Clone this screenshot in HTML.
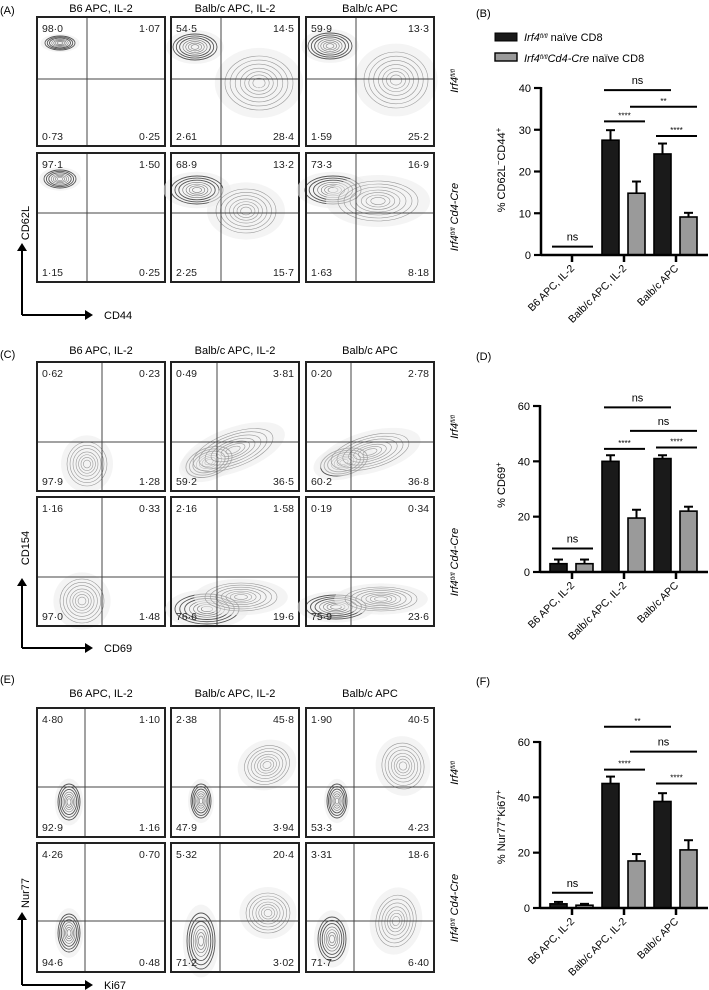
<!DOCTYPE html>
<html><head><meta charset="utf-8"><style>
body{margin:0;background:#fff}
svg{display:block;font-family:"Liberation Sans",sans-serif}
</style></head><body>
<svg id="fig" width="709" height="990" viewBox="0 0 709 990" xmlns="http://www.w3.org/2000/svg"></svg>
<script>
const NS="http://www.w3.org/2000/svg";
const svg=document.getElementById('fig');
function el(tag,attrs,parent,text){const e=document.createElementNS(NS,tag);for(const k in attrs)e.setAttribute(k,attrs[k]);if(text!==undefined)e.textContent=text;(parent||svg).appendChild(e);return e;}

// ---------- bar chart data ----------
const categories=["B6 APC, IL-2","Balb/c APC, IL-2","Balb/c APC"];
const seriesNames=["Irf4 fl/fl naïve CD8","Irf4 fl/fl Cd4-Cre naïve CD8"];
const bValuesWT=[0,27.5,24.2];
const bValuesKO=[0,14.8,9.1];
const bErrWT=[0,2.4,2.5];
const bErrKO=[0,2.8,1.0];
const bTicks=[0,10,20,30,40];
const dValuesWT=[3,40,41];
const dValuesKO=[3,19.5,22];
const dErrWT=[1.5,2.2,1.2];
const dErrKO=[1.5,3,1.6];
const dTicks=[0,20,40,60];
const fValuesWT=[1.5,45,38.5];
const fValuesKO=[1,17,21];
const fErrWT=[0.7,2.5,3];
const fErrKO=[0.5,2.5,3.5];
const fTicks=[0,20,40,60];
// significance annotations: [fromGroup, fromSeries, toGroup, toSeries, value, label]
const bSig=[[0,0,0,1,2,"ns"],[1,0,2,0,39.5,"ns"],[1,1,2,1,35.5,"**"],[1,0,1,1,32,"****"],[2,0,2,1,28.5,"****"]];
const dSig=[[0,0,0,1,8.5,"ns"],[1,0,2,0,59.5,"ns"],[1,1,2,1,51,"ns"],[1,0,1,1,44.5,"****"],[2,0,2,1,45,"****"]];
const fSig=[[0,0,0,1,5.5,"ns"],[1,0,2,0,65.5,"**"],[1,1,2,1,56.5,"ns"],[1,0,1,1,50,"****"],[2,0,2,1,45,"****"]];

function barChart(o){
  const g=el('g',{});
  
  
  const yMax=o.ticks[o.ticks.length-1];
  const y=v=>o.y0-(v/yMax)*(o.y0-o.yTop);
  const cx=i=>o.c0+i*52;
  const bx=(i,s)=>s===0?cx(i)-22:cx(i)+4;
  [[o.wt,o.ewt,'#1a1a1a'],[o.ko,o.eko,'#9a9a9a']].forEach((ser,s)=>{
    ser[0].forEach((v,i)=>{
      const x=bx(i,s),top=y(v),etop=y(v+ser[1][i]);
      if(ser[1][i]>0){
        const ln=el('line',{x1:x+8.5,x2:x+8.5,y1:top,y2:etop,stroke:'#000','stroke-width':2},g);
        
        el('line',{x1:x+4,x2:x+13,y1:etop,y2:etop,stroke:'#000','stroke-width':2},g);
      }
      if(v>0){
        const r=el('rect',{x:x,y:top,width:17,height:o.y0-top,fill:ser[2],stroke:'#000','stroke-width':1.6},g);
        
        
      }
    });
  });
  const ya=el('line',{x1:o.ax,x2:o.ax,y1:o.yTop-1,y2:o.y0+1,stroke:'#000','stroke-width':2.5},g);
  
  const xa=el('line',{x1:o.ax,x2:708,y1:o.y0,y2:o.y0,stroke:'#000','stroke-width':2.5},g);
  
  o.ticks.forEach(t=>{
    el('line',{x1:o.ax-7,x2:o.ax,y1:y(t),y2:y(t),stroke:'#000','stroke-width':2.2},g);
    const tl=el('text',{x:o.ax-10,y:y(t)+4,'text-anchor':'end','font-size':11},g,String(t));
    
  });
  categories.forEach((c,i)=>{
    el('line',{x1:cx(i),x2:cx(i),y1:o.y0,y2:o.y0+7,stroke:'#000','stroke-width':2.5},g);
    const t=el('text',{x:cx(i)+3,y:o.y0+14,'text-anchor':'end','font-size':10.5,transform:`rotate(-45 ${cx(i)+3} ${o.y0+14})`},g,c);
    
  });
  o.sig.forEach(sg=>{
    const x1=bx(sg[0],sg[1])+2,x2=bx(sg[2],sg[3])+17,yy=y(sg[4]);
    const l=el('line',{x1:x1,x2:x2,y1:yy,y2:yy,stroke:'#000','stroke-width':2},g);
    
    const isNs=sg[5]==='ns';
    const tt=el('text',{x:(x1+x2)/2,y:isNs?yy-6:yy-3,'text-anchor':'middle','font-size':isNs?11:8},g,sg[5]);
    
  });
  const yt=el('text',{x:505,y:o.titleY,'text-anchor':'middle','font-size':11,transform:`rotate(-90 505 ${o.titleY})`},g);
  
  yt.innerHTML=o.title;
}

barChart({name:'chart-b',wt:bValuesWT,ko:bValuesKO,ewt:bErrWT,eko:bErrKO,ticks:bTicks,sig:bSig,ax:541,y0:255,yTop:88,c0:572,titleY:170,title:'% CD62L<tspan baseline-shift="super" font-size="8">−</tspan>CD44<tspan baseline-shift="super" font-size="8">+</tspan>'});
barChart({name:'chart-d',wt:dValuesWT,ko:dValuesKO,ewt:dErrWT,eko:dErrKO,ticks:dTicks,sig:dSig,ax:540,y0:572,yTop:406,c0:572,titleY:485,title:'% CD69<tspan baseline-shift="super" font-size="8">+</tspan>'});
barChart({name:'chart-f',wt:fValuesWT,ko:fValuesKO,ewt:fErrWT,eko:fErrKO,ticks:fTicks,sig:fSig,ax:540,y0:908,yTop:742,c0:572,titleY:827,title:'% Nur77<tspan baseline-shift="super" font-size="8">+</tspan>Ki67<tspan baseline-shift="super" font-size="8">+</tspan>'});

const lg=el('g',{});
const l1=el('rect',{x:495,y:33,width:22,height:8,fill:'#1a1a1a',stroke:'#000'},lg);
const l2=el('rect',{x:495,y:53,width:22,height:8,fill:'#9a9a9a',stroke:'#000','stroke-width':1.4},lg);
const lt1=el('text',{x:524,y:41,'font-size':11},lg);lt1.innerHTML='<tspan font-style="italic">Irf4</tspan><tspan font-style="italic" font-size="6" baseline-shift="super">fl/fl</tspan> naïve CD8';

const lt2=el('text',{x:524,y:62,'font-size':11},lg);lt2.innerHTML='<tspan font-style="italic">Irf4</tspan><tspan font-style="italic" font-size="6" baseline-shift="super">fl/fl</tspan><tspan font-style="italic">Cd4-Cre</tspan> naïve CD8';


[['(A)',0,14],['(B)',476,17],['(C)',0,358],['(D)',476,360],['(E)',0,683],['(F)',476,685]].forEach(p=>{
  const t=el('text',{x:p[1],y:p[2],'font-size':11},svg,p[0]);
  
});

const boxX=[37,171,306];
function flow(bx,by,vx,hy,nums,blobs,name){
  const g=el('g',{});
  blobs.forEach(b=>{
    const [x,y,rx,ry,rot,dark]=b;
    el('ellipse',{cx:bx+x,cy:by+y,rx:rx*1.3,ry:ry*1.3,fill:'#ececec',opacity:0.6,transform:`rotate(${rot} ${bx+x} ${by+y})`},g);
    [1,0.85,0.7,0.55,0.42,0.3,0.18].forEach((s,k)=>{
      el('ellipse',{cx:bx+x,cy:by+y,rx:rx*s,ry:ry*s,fill:'none',stroke:dark?(k<3?'#555':'#777'):'#999','stroke-width':dark&&k<3?0.9:0.6,transform:`rotate(${rot} ${bx+x} ${by+y})`},g);
    });
  });
  el('line',{x1:bx+vx,x2:bx+vx,y1:by,y2:by+129,stroke:'#444','stroke-width':1},g);
  el('line',{x1:bx,x2:bx+128,y1:by+hy,y2:by+hy,stroke:'#444','stroke-width':1},g);
  const r=el('rect',{x:bx,y:by,width:128,height:129,fill:'none',stroke:'#222','stroke-width':2},g);
  
  const pos=[[bx+5,by+15,'start'],[bx+123,by+15,'end'],[bx+5,by+123,'start'],[bx+123,by+123,'end']];
  nums.forEach((n,i)=>{const t=el('text',{x:pos[i][0],y:pos[i][1],'text-anchor':pos[i][2],'font-size':10.5,fill:'#222'},g,n);
    });
}
flow(37,17,50,62,["98·0","1·07","0·73","0·25"],[[23,26,15,7,0,1]],'flow-a-wt-b6');
flow(171,17,50,62,["54·5","14·5","2·61","28·4"],[[24,30,22,13,0,1],[88,66,34,27,0,0]],'flow-a-wt-balb-il2');
flow(306,17,50,62,["59·9","13·3","1·59","25·2"],[[24,29,22,13,0,1],[90,63,32,28,0,0]],'flow-a-wt-balb');
flow(37,153,50,60,["97·1","1·50","1·15","0·25"],[[23,26,16,9,0,1]],'flow-a-ko-b6');
flow(171,153,50,60,["68·9","13·2","2·25","15·7"],[[26,37,26,14,0,1],[75,58,30,22,0,0]],'flow-a-ko-balb-il2');
flow(306,153,50,60,["73·3","16·9","1·63","8·18"],[[27,37,28,14,0,1],[72,48,40,20,0,0]],'flow-a-ko-balb');
flow(37,362,65,80,["0·62","0·23","97·9","1·28"],[[50,102,20,22,0,0]],'flow-c-wt-b6');
flow(171,362,46,80,["0·49","3·81","59·2","36·5"],[[38,100,24,14,-20,1],[62,88,42,17,-20,0]],'flow-c-wt-balb-il2');
flow(306,362,45,80,["0·20","2·78","60·2","36·8"],[[38,100,24,13,-15,1],[64,90,40,16,-15,0]],'flow-c-wt-balb');
flow(37,497,65,80,["1·16","0·33","97·0","1·48"],[[45,104,22,22,0,0]],'flow-c-ko-b6');
flow(171,497,46,80,["2·16","1·58","76·6","19·6"],[[36,112,32,15,0,1],[70,100,36,14,0,0]],'flow-c-ko-balb-il2');
flow(306,497,45,80,["0·19","0·34","75·9","23·6"],[[30,110,30,12,0,1],[75,102,36,12,0,0]],'flow-c-ko-balb');
flow(37,708,48,79,["4·80","1·10","92·9","1·16"],[[32,94,11,18,0,1]],'flow-e-wt-b6');
flow(171,708,49,79,["2·38","45·8","47·9","3·94"],[[30,93,10,17,0,1],[96,57,23,19,-20,0]],'flow-e-wt-balb-il2');
flow(306,708,48,79,["1·90","40·5","53·3","4·23"],[[31,93,10,17,0,1],[97,58,21,23,-10,0]],'flow-e-wt-balb');
flow(37,843,48,78,["4·26","0·70","94·6","0·48"],[[32,90,11,19,0,1]],'flow-e-ko-b6');
flow(171,843,49,78,["5·32","20·4","71·2","3·02"],[[30,98,14,28,0,1],[97,70,22,20,0,0]],'flow-e-ko-balb-il2');
flow(306,843,48,78,["3·31","18·6","71·7","6·40"],[[26,96,14,22,0,1],[90,78,20,26,10,0]],'flow-e-ko-balb');

[[8],[350],[693]].forEach(r=>{
  categories.forEach((c,i)=>{
    const t=el('text',{x:boxX[i]+64,y:r[0]+4,'text-anchor':'middle','font-size':11},svg,c);
    
  });
});
[[81,217],[427,562],[773,908]].forEach(rs=>{
  const a=el('text',{x:458,y:rs[0],'text-anchor':'middle','font-size':11,'font-style':'italic',transform:`rotate(-90 458 ${rs[0]})`});
  a.innerHTML='Irf4<tspan font-size="6" baseline-shift="super">fl/fl</tspan>';
  
  const b=el('text',{x:458,y:rs[1],'text-anchor':'middle','font-size':11,'font-style':'italic',transform:`rotate(-90 458 ${rs[1]})`});
  b.innerHTML='Irf4<tspan font-size="6" baseline-shift="super">fl/fl</tspan> Cd4-Cre';
  
});
[[315,243,223,'CD62L','CD44'],[648,578,548,'CD154','CD69'],[985,912,893,'Nur77','Ki67']].forEach(a=>{
  const g=el('g',{});
  el('path',{d:`M22 ${a[0]} V${a[1]+7} M22 ${a[0]} H86`,stroke:'#000','stroke-width':2,fill:'none'},g);
  el('path',{d:`M17 ${a[1]+8} L22 ${a[1]} L27 ${a[1]+8}Z`,fill:'#000'},g);
  el('path',{d:`M85 ${a[0]-5} L93 ${a[0]} L85 ${a[0]+5}Z`,fill:'#000'},g);
  const yl=el('text',{x:29,y:a[2],'text-anchor':'middle','font-size':11,transform:`rotate(-90 29 ${a[2]})`},g,a[3]);
  
  const xl=el('text',{x:104,y:a[0]+4,'font-size':11},g,a[4]);
  
});
</script>
</body></html>
